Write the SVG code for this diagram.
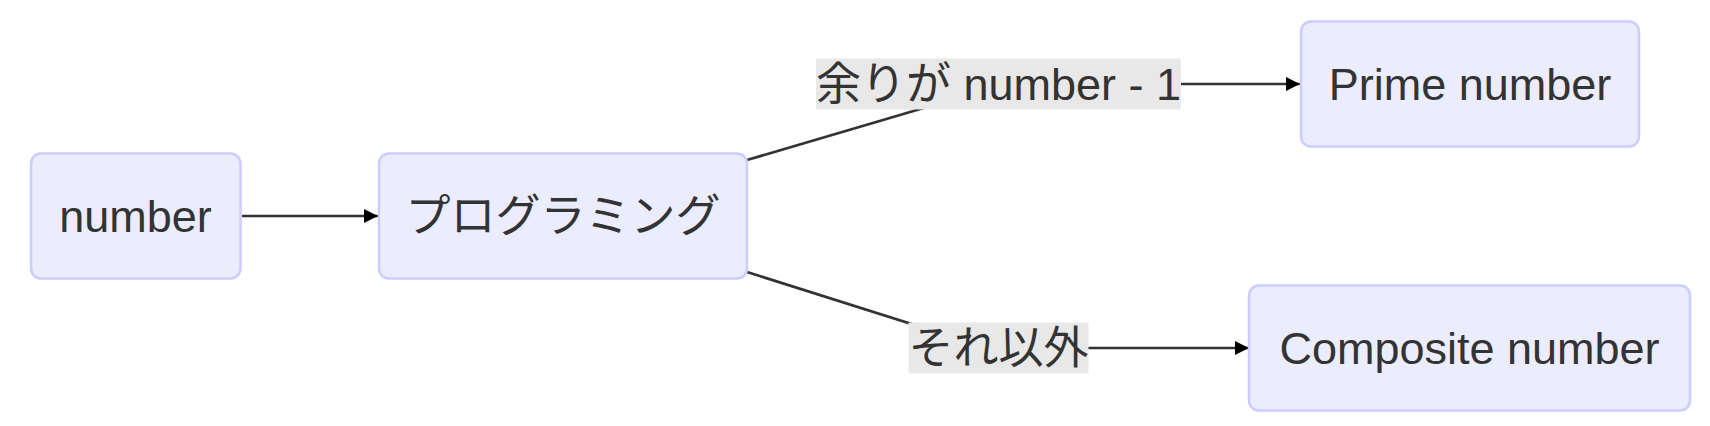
<svg xmlns="http://www.w3.org/2000/svg" width="1710" height="426" viewBox="0 0 1710 426">
<style>
.node rect{fill:#ECECFF;stroke:#CCCCFF;stroke-width:2.5}
text{font-family:"Liberation Sans","Noto Sans CJK JP",sans-serif;font-size:45px;fill:#333;text-anchor:middle}
.edge{fill:none;stroke:#333;stroke-width:2.7}
.lbl rect{fill:#E8E8E8}
</style>
<defs>
<marker id="arr" markerUnits="userSpaceOnUse" markerWidth="15" markerHeight="15" refX="14" refY="7" orient="auto">
<path d="M0,0 L14,7 L0,14 z" fill="#000"/>
</marker>
</defs>
<g id="connectors">
<path class="edge" d="M242,216 L378,216" marker-end="url(#arr)"/>
<path class="edge" d="M747,160 L995,87 Q1005,84 1015,84 L1300,84" marker-end="url(#arr)"/>
<path class="edge" d="M747,272 L978,345 Q988,348 998,348 L1249,348" marker-end="url(#arr)"/>
</g>
<g id="label-1" class="lbl">
<rect x="816" y="58.5" width="365" height="51"/>
<text x="998.5" y="99.5">余りが number - 1</text>
</g>
<g id="label-2" class="lbl">
<rect x="908.5" y="322.5" width="180" height="51"/>
<text x="998.5" y="363.5">それ以外</text>
</g>
<g id="node-number" class="node">
<rect x="31" y="153.5" width="209.5" height="125" rx="10"/>
<text x="135.5" y="231.5">number</text>
</g>
<g id="node-programming" class="node">
<rect x="379" y="153.5" width="368" height="125" rx="10"/>
<text x="563" y="231.5">プログラミング</text>
</g>
<g id="node-prime" class="node">
<rect x="1301" y="21.5" width="338" height="125" rx="10"/>
<text x="1470" y="99.5">Prime number</text>
</g>
<g id="node-composite" class="node">
<rect x="1249" y="285.5" width="441" height="125" rx="10"/>
<text x="1469.5" y="364">Composite number</text>
</g>
</svg>
